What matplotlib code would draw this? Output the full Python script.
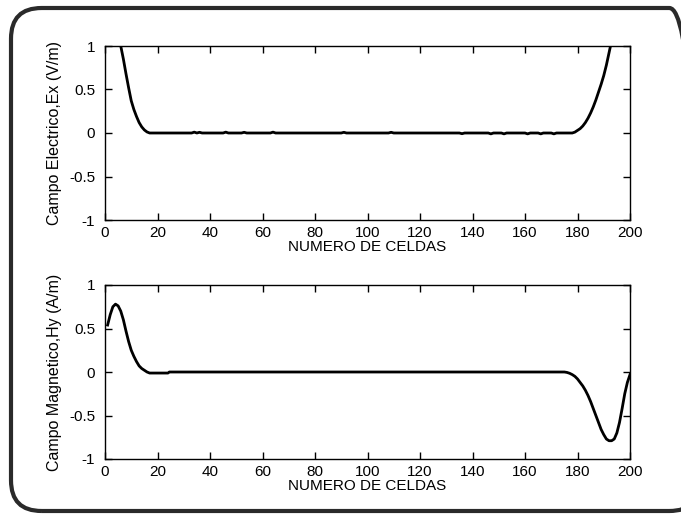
import matplotlib
matplotlib.use("Agg")
import matplotlib.pyplot as plt
from matplotlib.patches import FancyBboxPatch

plt.rcParams['font.family'] = ['Liberation Sans', 'DejaVu Sans']

# ---- data ----
ex_x = [5, 6, 7, 8, 9, 10, 11, 12, 13, 14, 15, 16, 17, 20, 30, 33, 34, 35, 36, 37,
        45, 46, 47, 52, 53, 54, 63, 64, 65, 90, 91, 92, 108, 109, 110,
        135, 136, 137, 146, 147, 148, 151, 152, 153, 160, 161, 162, 165, 166, 167,
        170, 171, 172, 178, 179, 180, 181, 182, 183, 184, 185, 186, 187, 188, 189,
        190, 191, 192, 193, 194]
ex_y = [1.25, 1.0, 0.85, 0.68, 0.52, 0.37, 0.27, 0.19, 0.12, 0.07, 0.035, 0.012, 0.0, 0.0, 0.0, 0.0, 0.01, 0.0, 0.008, 0.0,
        0.0, 0.01, 0.0, 0.0, 0.008, 0.0, 0.0, 0.01, 0.0, 0.0, 0.008, 0.0, 0.0, 0.008, 0.0,
        0.0, -0.008, 0.0, 0.0, -0.01, 0.0, 0.0, -0.01, 0.0, 0.0, -0.01, 0.0, 0.0, -0.01, 0.0,
        0.0, -0.01, 0.0, 0.0, 0.01, 0.03, 0.05, 0.08, 0.12, 0.17, 0.23, 0.30, 0.38, 0.47, 0.56,
        0.66, 0.78, 0.92, 1.06, 1.2]

hy_x = [1, 2, 3, 4, 5, 6, 7, 8, 9, 10, 11, 12, 13, 14, 15, 16, 17, 24, 24.5,
        175, 176, 177, 178, 179, 180, 181, 182, 183, 184, 185, 186, 187, 188, 189,
        190, 191, 192, 193, 194, 195, 196, 197, 198, 199, 200]
hy_y = [0.54, 0.66, 0.75, 0.78, 0.76, 0.70, 0.60, 0.47, 0.35, 0.25, 0.18, 0.12, 0.07, 0.04, 0.02, 0.0, -0.012, -0.012, 0.0,
        0.0, -0.005, -0.015, -0.03, -0.05, -0.08, -0.12, -0.16, -0.21, -0.27, -0.34, -0.42, -0.50, -0.58, -0.66,
        -0.72, -0.77, -0.79, -0.79, -0.77, -0.70, -0.58, -0.42, -0.25, -0.12, -0.03]

x_ticks = [0, 20, 40, 60, 80, 100, 120, 140, 160, 180, 200]
y_ticks = [-1, -0.5, 0, 0.5, 1]
y_tick_labels = ['-1', '-0.5', '0', '0.5', '1']
xlabel = 'NUMERO DE CELDAS'
ylabel1 = 'Campo Electrico,Ex (V/m)'
ylabel2 = 'Campo Magnetico,Hy (A/m)'

W, H = 681, 516
fig = plt.figure(figsize=(W / 100, H / 100), dpi=100)
fig.patch.set_facecolor('white')

# rounded frame (right edge runs off the scan)
frame = FancyBboxPatch((11 / W, 1 - 511 / H), (700 - 11) / W, (511 - 8) / H,
                       boxstyle="round,pad=0,rounding_size=0.045",
                       transform=fig.transFigure, fill=False,
                       edgecolor='#2a2a2a', linewidth=3.0, mutation_aspect=W / H,
                       clip_on=False)
fig.patches.append(frame)

def make_ax(rect, x, y, ylabel):
    ax = fig.add_axes(rect)
    ax.plot(x, y, color='black', linewidth=2.0, solid_joinstyle='round')
    ax.set_xlim(0, 200)
    ax.set_ylim(-1, 1)
    ax.set_xticks(x_ticks)
    ax.set_xticklabels([str(t) for t in x_ticks])
    ax.set_yticks(y_ticks)
    ax.set_yticklabels(y_tick_labels)
    ax.tick_params(direction='in', length=5, width=1, top=True, right=True,
                   labelsize=11, colors='black')
    ax.tick_params(axis='x', pad=4)
    ax.tick_params(axis='y', pad=7)
    for s in ax.spines.values():
        s.set_linewidth(1.0)
        s.set_color('black')
    ax.set_xlabel(xlabel, fontsize=11, labelpad=0)
    ax.set_ylabel(ylabel, fontsize=11.5, labelpad=5)
    return ax

ax1 = make_ax([105 / W, 1 - 220 / H, 525 / W, 174 / H], ex_x, ex_y, ylabel1)
ax2 = make_ax([105 / W, 1 - 459 / H, 525 / W, 174 / H], hy_x, hy_y, ylabel2)

fig.savefig('out.png', dpi=100)
